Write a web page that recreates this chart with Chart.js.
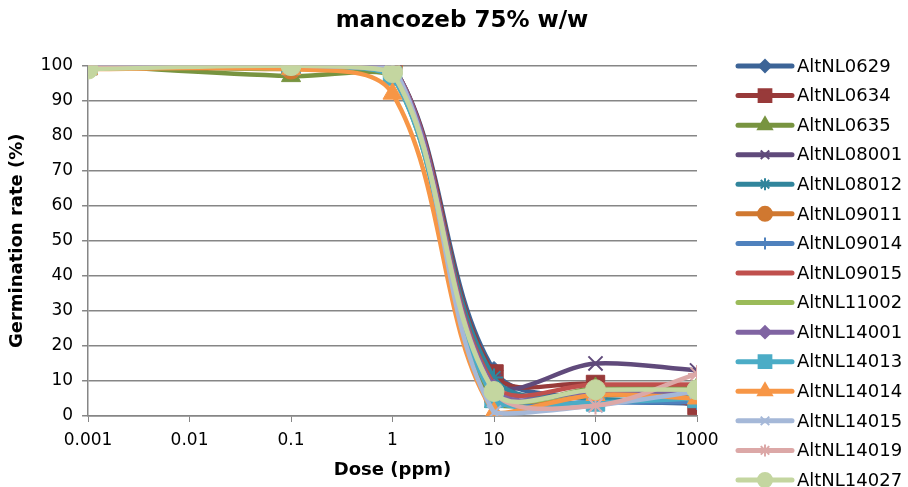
<!DOCTYPE html>
<html>
<head>
<meta charset="utf-8">
<script src="https://cdn.jsdelivr.net/npm/chart.js@4.4.0/dist/chart.umd.min.js"></script>
<style>
html, body { margin: 0; padding: 0; background: #fff; }
</style>
</head>
<body>
<canvas id="chart" width="908" height="487"></canvas>
<script>
// dose levels (ppm) and axis ticks
const doses = [0.001, 0.1, 1, 10, 100, 1000];
const xTicks = [0.001, 0.01, 0.1, 1, 10, 100, 1000];

const seriesNames = ['AltNL0629', 'AltNL0634', 'AltNL0635', 'AltNL08001', 'AltNL08012',
    'AltNL09011', 'AltNL09014', 'AltNL09015', 'AltNL11002', 'AltNL14001',
    'AltNL14013', 'AltNL14014', 'AltNL14015', 'AltNL14019', 'AltNL14027'];

// germination rate (%) per isolate
const AltNL0629 = [100, 100, 100, 13, 5, 3.5];
const AltNL0634 = [100, 100, 100, 12, 9, 3];
const AltNL0635 = [100, 97, 97, 4, 8, 8];
const AltNL08001 = [100, 100, 100, 10, 15, 13];
const AltNL08012 = [100, 100, 98, 11, 5, 5];
const AltNL09011 = [100, 99, 100, 5, 6, 6];
const AltNL09014 = [100, 100, 99, 6, 4, 4];
const AltNL09015 = [100, 100, 100, 9, 9, 9];
const AltNL11002 = [100, 99, 99, 7, 7, 7];
const AltNL14001 = [100, 100, 100, 8, 7, 7];
const AltNL14013 = [100, 100, 97, 5, 4, 5];
const AltNL14014 = [99, 99, 92, 1, 6, 5];
const AltNL14015 = [100, 100, 100, 1, 3, 7];
const AltNL14019 = [100, 100, 98, 7, 3, 12];
const AltNL14027 = [99, 100, 98, 7, 7.5, 7.5];

const seriesValues = [AltNL0629, AltNL0634, AltNL0635, AltNL08001, AltNL08012,
    AltNL09011, AltNL09014, AltNL09015, AltNL11002, AltNL14001,
    AltNL14013, AltNL14014, AltNL14015, AltNL14019, AltNL14027];

const colors = ['#3C6497', '#983A3A', '#789440', '#604A7B', '#31859C',
    '#D07830', '#4F81BD', '#C0504D', '#9BBB59', '#8064A2',
    '#4BACC6', '#F79646', '#A5B8D8', '#DCA8A7', '#C4D6A0'];
const markers = ['rectRot', 'rect', 'triangle', 'crossRot', 'star',
    'circle', 'cross', null, null, 'rectRot',
    'rect', 'triangle', 'crossRot', 'star', 'circle'];
const markerSize = { rectRot: 9, rect: 13, triangle: 11, crossRot: 10, star: 9, circle: 10, cross: 8 };
const legendSize = { rectRot: 6, rect: 9, triangle: 8, crossRot: 6, star: 6, circle: 7, cross: 6 };

const FONT = '"DejaVu Sans", Verdana, sans-serif';

const datasets = seriesNames.map(function (name, i) {
    const m = markers[i];
    return {
        label: name,
        data: doses.map(function (d, j) { return { x: d, y: seriesValues[i][j] }; }),
        borderColor: colors[i],
        backgroundColor: colors[i],
        pointBackgroundColor: colors[i],
        pointBorderColor: colors[i],
        pointStyle: m || 'circle',
        pointRadius: m ? markerSize[m] : 0,
        pointHoverRadius: m ? markerSize[m] : 0,
        pointBorderWidth: (m === 'crossRot' || m === 'star' || m === 'cross') ? 2 : 1,
        borderWidth: 4.5,
        tension: 0.35,
        order: seriesNames.length - i
    };
});

// legend drawn at the right like the Excel original
const sideLegend = {
    id: 'sideLegend',
    afterLayout(chart) {
        // centre the title over the whole picture, not just the plot
        chart.titleBlock.left += 16;
        chart.titleBlock.right = chart.width;
    },
    afterDraw(chart) {
        const ctx = chart.ctx;
        ctx.save();
        seriesNames.forEach(function (name, i) {
            const y = 66 + i * 29.57;
            ctx.strokeStyle = colors[i];
            ctx.lineWidth = 5;
            ctx.lineCap = 'round';
            ctx.beginPath();
            ctx.moveTo(738, y);
            ctx.lineTo(792, y);
            ctx.stroke();
            const m = markers[i];
            if (m) {
                ctx.fillStyle = colors[i];
                ctx.strokeStyle = colors[i];
                ctx.lineWidth = 2;
                ctx.lineCap = 'butt';
                Chart.helpers.drawPoint(ctx, { pointStyle: m, radius: legendSize[m], borderWidth: 2, rotation: 0 }, 765, y);
            }
            ctx.fillStyle = '#000';
            ctx.font = '18px ' + FONT;
            ctx.textBaseline = 'middle';
            ctx.textAlign = 'left';
            ctx.fillText(name, 797, y + 1);
        });
        ctx.restore();
    }
};

new Chart(document.getElementById('chart'), {
    type: 'line',
    data: { datasets: datasets },
    plugins: [sideLegend],
    options: {
        responsive: false,
        animation: false,
        devicePixelRatio: 1,
        layout: { padding: { left: 0, right: 211, top: 0, bottom: 2 } },
        plugins: {
            legend: { display: false },
            tooltip: { enabled: false },
            title: {
                display: true,
                text: 'mancozeb 75% w/w',
                color: '#000',
                font: { family: FONT, size: 23, weight: 'bold' },
                padding: { top: 7, bottom: 31 }
            }
        },
        scales: {
            x: {
                type: 'logarithmic',
                min: 0.001,
                max: 1000,
                afterBuildTicks: function (axis) {
                    axis.ticks = xTicks.map(function (v) { return { value: v }; });
                },
                ticks: {
                    color: '#000',
                    font: { family: FONT, size: 17 },
                    padding: 8,
                    maxRotation: 0,
                    autoSkip: false,
                    callback: function (v) { return String(v); }
                },
                grid: { drawOnChartArea: false, color: '#868686', tickLength: 6 },
                border: { color: '#868686', width: 1.5 },
                title: {
                    display: true,
                    text: 'Dose (ppm)',
                    color: '#000',
                    font: { family: FONT, size: 18, weight: 'bold' },
                    padding: { top: 1, bottom: 4 }
                }
            },
            y: {
                min: 0,
                max: 100,
                ticks: {
                    stepSize: 10,
                    color: '#000',
                    font: { family: FONT, size: 17 },
                    padding: 9
                },
                grid: { color: '#868686', lineWidth: 1.5, tickLength: 6 },
                border: { color: '#868686', width: 1.5 },
                title: {
                    display: true,
                    text: 'Germination rate (%)',
                    color: '#000',
                    font: { family: FONT, size: 18, weight: 'bold' },
                    padding: { top: 7, bottom: 3 }
                }
            }
        }
    }
});
</script>
</body>
</html>
